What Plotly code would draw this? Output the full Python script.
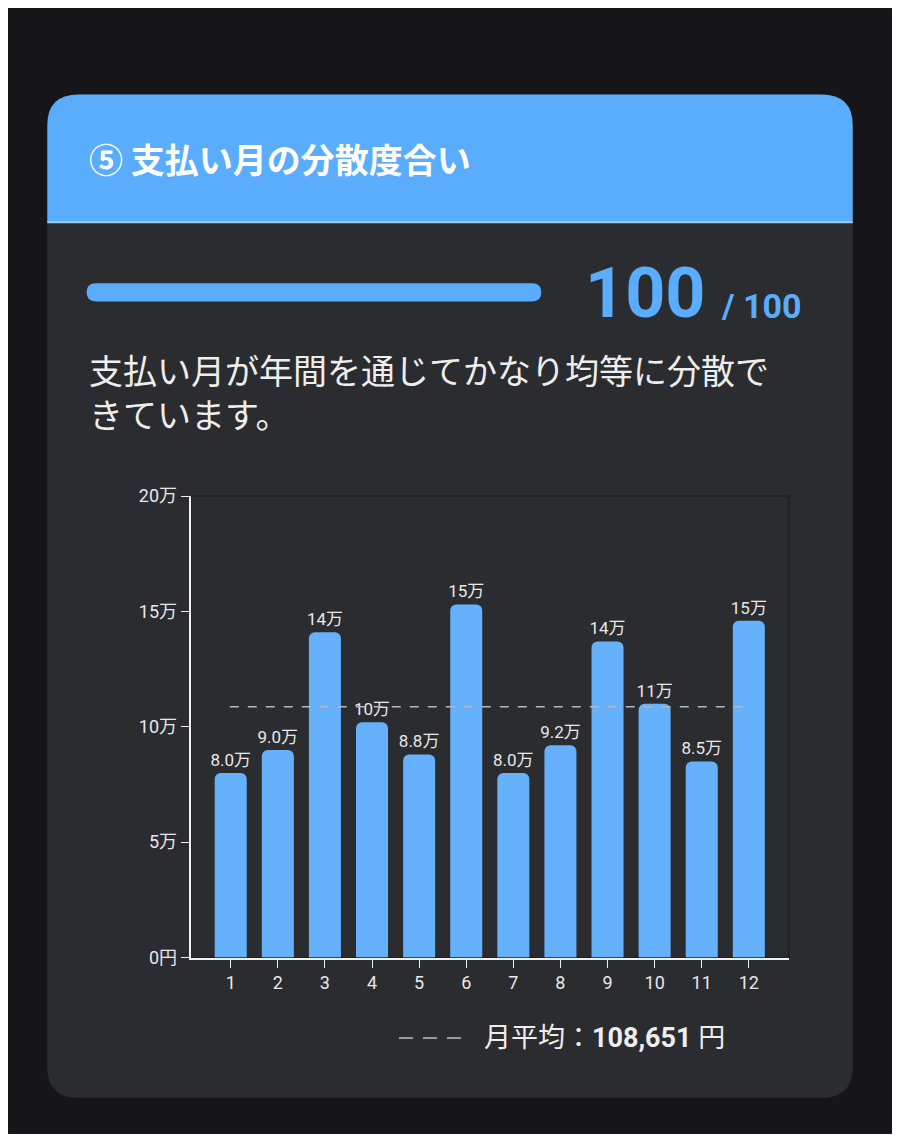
import plotly.graph_objects as go

months = [str(i) for i in range(1, 13)]
amounts = [80000, 90000, 141000, 102000, 88000, 153000, 80000, 92000, 137000, 110000, 85000, 146000]
monthly_avg = 108651
score = 100
y_ticks = [0, 50000, 100000, 150000, 200000]
y_tick_labels = ["0円", "5万", "10万", "15万", "20万"]

# design coords are 900x1142; the page adds a small body margin, so draw a bit smaller
W, H = 900, 1142
FW, FH = 884, 1126
FONT = "Roboto, Noto Sans CJK JP"
JP = "Noto Sans CJK JP"


def px(x):
    return x / W


def py(y):
    return 1 - y / H


def rounded_rect(x0, y0, x1, y1, r, top_only=False):
    rb = 0 if top_only else r
    pts = [
        f"M {px(x0 + r)} {py(y0)}",
        f"L {px(x1 - r)} {py(y0)}",
        f"Q {px(x1)} {py(y0)} {px(x1)} {py(y0 + r)}",
        f"L {px(x1)} {py(y1 - rb)}",
        f"Q {px(x1)} {py(y1)} {px(x1 - rb)} {py(y1)}",
        f"L {px(x0 + rb)} {py(y1)}",
        f"Q {px(x0)} {py(y1)} {px(x0)} {py(y1 - rb)}",
        f"L {px(x0)} {py(y0 + r)}",
        f"Q {px(x0)} {py(y0)} {px(x0 + r)} {py(y0)} Z",
    ]
    return " ".join(pts)


labels = [f"{v/1e4:.1f}万" if v < 1e5 else f"{round(v/1e4)}万" for v in amounts]

fig = go.Figure()
fig.add_trace(go.Bar(
    x=months, y=amounts, text=labels, textposition="outside", constraintext="none",
    textfont=dict(color="#e8e8ea", size=17, family=FONT),
    marker=dict(color="#66b1fc", cornerradius=6, line=dict(width=0)),
    width=0.68, cliponaxis=False, hoverinfo="skip",
))

shapes = [
    dict(type="path", xref="paper", yref="paper", path=rounded_rect(40, 78, 860, 1115, 32),
         fillcolor="#2b2c30", line=dict(width=0), layer="below"),
    dict(type="path", xref="paper", yref="paper", path=rounded_rect(40, 78, 860, 210, 32, top_only=True),
         fillcolor="#5aacfc", line=dict(width=0), layer="below"),
    dict(type="line", xref="paper", yref="paper", x0=px(40), x1=px(860), y0=py(210), y1=py(210),
         line=dict(color="#9fd0ff", width=2), layer="below"),
    dict(type="path", xref="paper", yref="paper", path=rounded_rect(80, 273, 543, 292, 9.5),
         fillcolor="#5aacfc", line=dict(width=0)),
    dict(type="rect", xref="paper", yref="paper", x0=px(186), x1=px(795), y0=py(970), y1=py(493),
         line=dict(color="#1e1f22", width=1.5), layer="below"),
    dict(type="line", xref="x", yref="y", x0=-0.02, x1=11.02, y0=monthly_avg, y1=monthly_avg,
         line=dict(color="#b8b8bc", width=1.5, dash="dash")),
    dict(type="line", xref="paper", yref="paper", x0=px(398), x1=px(466), y0=py(1053), y1=py(1053),
         line=dict(color="#9a9a9e", width=2, dash="14px,10px")),
]

annotations = [
    dict(x=px(80), y=py(144), xref="paper", yref="paper", xanchor="left", yanchor="middle",
         text="<b>⑤ 支払い月の分散度合い</b>", showarrow=False,
         font=dict(color="white", size=34, family=JP)),
    dict(x=px(712), y=py(283), xref="paper", yref="paper", xanchor="right", yanchor="middle",
         text=f"<b>{score}</b>", showarrow=False,
         font=dict(color="#5aacfc", size=70, family=FONT)),
    dict(x=px(724), y=py(297), xref="paper", yref="paper", xanchor="left", yanchor="middle",
         text="<b>/ 100</b>", showarrow=False,
         font=dict(color="#5aacfc", size=34, family=FONT)),
    dict(x=px(80), y=py(385), xref="paper", yref="paper", xanchor="left", yanchor="middle", align="left",
         text="支払い月が年間を通じてかなり均等に分散で<br>きています。", showarrow=False,
         font=dict(color="#eeeeee", size=34, family=JP)),
    dict(x=px(483), y=py(1053), xref="paper", yref="paper", xanchor="left", yanchor="middle",
         text=f"月平均：<b>{monthly_avg:,}</b> 円", showarrow=False,
         font=dict(color="#eeeeee", size=27, family=FONT)),
]

fig.update_layout(
    width=FW, height=FH, margin=dict(l=0, r=0, t=0, b=0),
    paper_bgcolor="#16161a", plot_bgcolor="rgba(0,0,0,0)",
    font=dict(family=FONT, color="#e8e8ea"),
    showlegend=False, shapes=shapes, annotations=annotations,
    xaxis=dict(domain=[px(186), px(795)], type="category", range=[-0.85, 11.85],
               showgrid=False, zeroline=False,
               showline=True, linecolor="#f0f0f0", linewidth=2,
               ticks="outside", ticklen=8, tickcolor="#f0f0f0",
               tickfont=dict(size=18, color="#e8e8ea")),
    yaxis=dict(domain=[py(970), py(493)], range=[0, 200000], showgrid=False, zeroline=False,
               showline=True, linecolor="#f0f0f0", linewidth=2,
               ticks="outside", ticklen=8, tickcolor="#f0f0f0",
               tickvals=y_ticks, ticktext=y_tick_labels,
               tickfont=dict(size=18, color="#e8e8ea")),
)

fig.write_html("out.html")
